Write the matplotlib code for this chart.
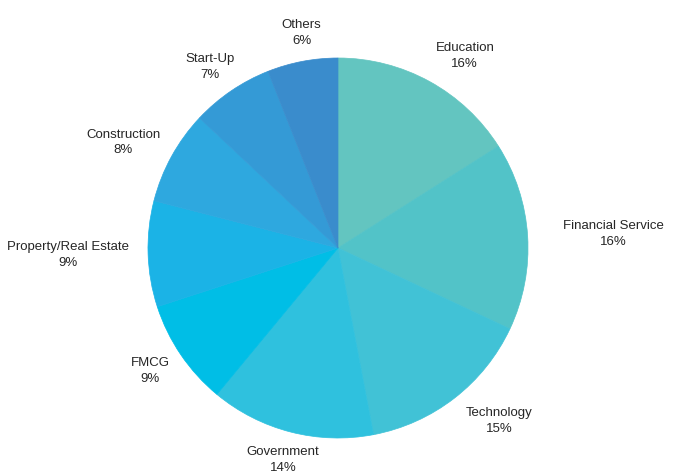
import numpy as np
import matplotlib
matplotlib.use("Agg")
import matplotlib.pyplot as plt

# sector shares (%), clockwise from 12 o'clock
sectors = ["Education", "Financial Service", "Technology", "Government", "FMCG",
           "Property/Real Estate", "Construction", "Start-Up", "Others"]
shares = [16, 16, 15, 14, 9, 9, 8, 7, 6]
colors = ["#63C5C0", "#52C3C8", "#41C2D6", "#2FC1DE", "#00BEE6",
          "#1BB3E6", "#2EA8DF", "#349AD6", "#3A8CCC"]

W, H = 674, 472
fig = plt.figure(figsize=(W / 100, H / 100), dpi=100)
ax = fig.add_axes([0, 0, 1, 1])

cx, cy, R = 338, H - 248, 190
wedges, _ = ax.pie(shares, colors=colors, startangle=90, counterclock=False,
                   center=(cx, cy), radius=R,
                   wedgeprops=dict(linewidth=0.5, antialiased=True))
for w, c in zip(wedges, colors):
    w.set_edgecolor(c)

ax.set_xlim(0, W)
ax.set_ylim(0, H)
ax.set_aspect("equal")
ax.axis("off")

# labels: name + percent, pushed outward by their own size
texts = []
for w, name, v in zip(wedges, sectors, shares):
    ang = np.deg2rad((w.theta1 + w.theta2) / 2)
    t = ax.text(cx, cy, f"{name}\n{v}%", ha="center", va="center",
                family="Liberation Sans", fontsize=9.5, color="#262626",
                linespacing=1.4)
    texts.append((t, ang))

fig.canvas.draw()
r = fig.canvas.get_renderer()
for t, ang in texts:
    bb = t.get_window_extent(r)
    c, s = np.cos(ang), np.sin(ang)
    x = cx + 8 + 1.08 * R * c + (bb.width / 2 + 12) * c
    y = cy + 1.08 * R * s + (bb.height / 2) * s
    t.set_position((x, y))

plt.savefig("out.png", dpi=100)
